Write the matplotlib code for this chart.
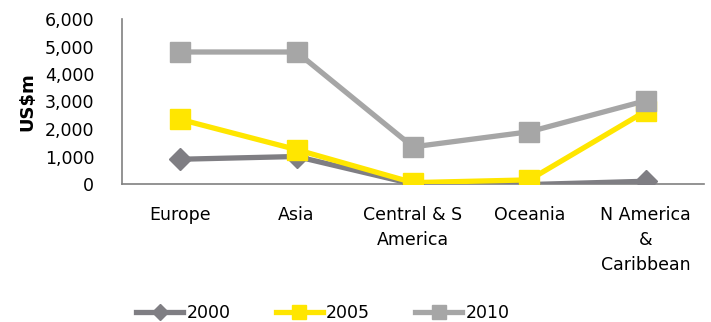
import numpy as np
import matplotlib.pyplot as plt
from matplotlib.transforms import offset_copy

regions = ["Europe", "Asia", "Central & S\nAmerica", "Oceania", "N America\n&\nCaribbean"]
y2000 = [900, 1000, 0, -20, 100]
y2005 = [2350, 1250, 50, 150, 2650]
y2010 = [4800, 4800, 1350, 1900, 3030]

plt.rcParams['font.family'] = ['DejaVu Sans']

fig = plt.figure(figsize=(7.11, 3.22), dpi=100)
ax = fig.add_axes([122/711, 1 - 184/322, 582/711, 165/322])

x = np.arange(len(regions))
ax.plot(x, y2000, color='#7f7e83', lw=3.8, marker='D', ms=11, label='2000')
ax.plot(x, y2005, color='#ffe600', lw=3.8, marker='s', ms=14, label='2005')
ax.plot(x, y2010, color='#a6a6a6', lw=3.8, marker='s', ms=14, label='2010')

ax.set_xlim(-0.5, len(regions) - 0.5)
ax.set_ylim(0, 6000)
ax.set_yticks(range(0, 6001, 1000))
ax.set_yticklabels([f"{v:,}" for v in range(0, 6001, 1000)])
ax.set_xticks(x)
ax.set_xticklabels([])
ax.tick_params(length=0, labelsize=12.5)
ax.tick_params(axis='y', pad=20)

# category labels drawn as text so the line spacing can be opened up
lab_tr = offset_copy(ax.get_xaxis_transform(), fig=fig, y=-16, units='points')
for xi, name in zip(x, regions):
    ax.text(xi, 0, name, transform=lab_tr, ha='center', va='top',
            fontsize=12.5, linespacing=1.5)

ax.set_ylabel('US$m', fontsize=13, fontweight='bold', labelpad=6)

for s in ['top', 'right']:
    ax.spines[s].set_visible(False)
for s in ['left', 'bottom']:
    ax.spines[s].set_color('#808080')
    ax.spines[s].set_linewidth(1.2)
ax.spines['bottom'].set_position(('data', 0))
ax.spines['bottom'].set_zorder(0)

fig.legend(loc='center', bbox_to_anchor=(323/711, 1 - 313/322), ncol=3, frameon=False,
           fontsize=12.5, handlelength=2.7, columnspacing=2.6, handletextpad=0.2,
           markerscale=0.75, borderpad=0)

fig.savefig('out.png', dpi=100)
